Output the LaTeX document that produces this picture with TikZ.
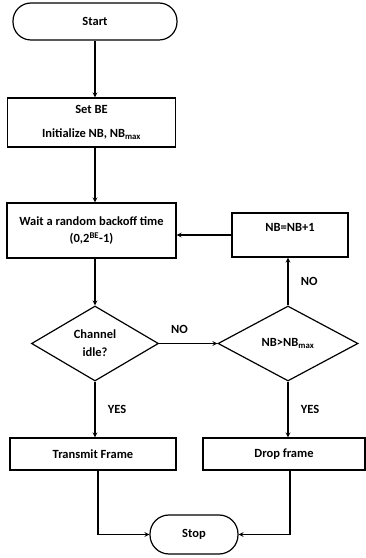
\documentclass[tikz,border=0pt]{standalone}
\usepackage{fontspec}
\setmainfont{Carlito}
\usetikzlibrary{shapes.geometric}

\begin{document}
\begin{tikzpicture}[->,>=stealth,x=1pt,y=1pt,line width=1.2pt,
    every node/.style={font=\fontsize{12.5}{15}\selectfont\bfseries},
    term node/.style={draw,rectangle,rounded corners=18pt,minimum height=37pt,inner sep=0pt},
    box node/.style={draw,rectangle,inner sep=0pt,align=center},
    test node/.style={draw,diamond,inner sep=0pt,minimum height=75pt,align=center}]
            \useasboundingbox (0,0) rectangle (366,558);

            \node[term node,minimum width=164pt] (1) at (95,536.5) {Start};
            \node[box node,minimum width=168pt,minimum height=49pt] (2) at (91.5,435.5) {Set BE\\[9pt]Initialize NB, NB\textsubscript{max}};
            \node[box node,minimum width=169pt,minimum height=55pt] (3) at (91.5,327.5) {Wait a random backoff time\\[2pt](0,2\textsuperscript{BE}-1)};
            \node[box node,minimum width=116pt,minimum height=44pt,text height=9pt,text depth=16pt] (4) at (290,323) {NB=NB+1};
            \node[test node,minimum width=127pt] (5) at (95,214.5) {Channel\\[3pt]idle?};
            \node[test node,minimum width=140pt] (6) at (288,214.5) {NB>NB\textsubscript{max}};
            \node[box node,minimum width=166pt,minimum height=32pt] (7) at (93,104) {Transmit Frame};
            \node[box node,minimum width=162pt,minimum height=32pt] (8) at (284,104) {Drop frame};
            \node[term node,rounded corners=19pt,minimum width=88pt,minimum height=39pt] (9) at (194,23.5) {Stop};

            \path
                (1) edge (1 |- 2.north)
                (1 |- 2.south) edge (1 |- 3.north)
                (4) edge (4 -| 3.east)
                (5 |- 3.south) edge (5)
                (5) edge node[pos=0.35,above=6pt] {NO} (6)
                (6) edge node[right=9pt] {NO} (6 |- 4.south)
                (5) edge node[right=9pt] {YES} (5 |- 7.north)
                (6) edge node[right=9pt] {YES} (6 |- 8.north)
                ;
            \draw (7.south -| 98,0) |- (9);
            \draw (8.south -| 290,0) |- (9);
        \end{tikzpicture}
\end{document}
